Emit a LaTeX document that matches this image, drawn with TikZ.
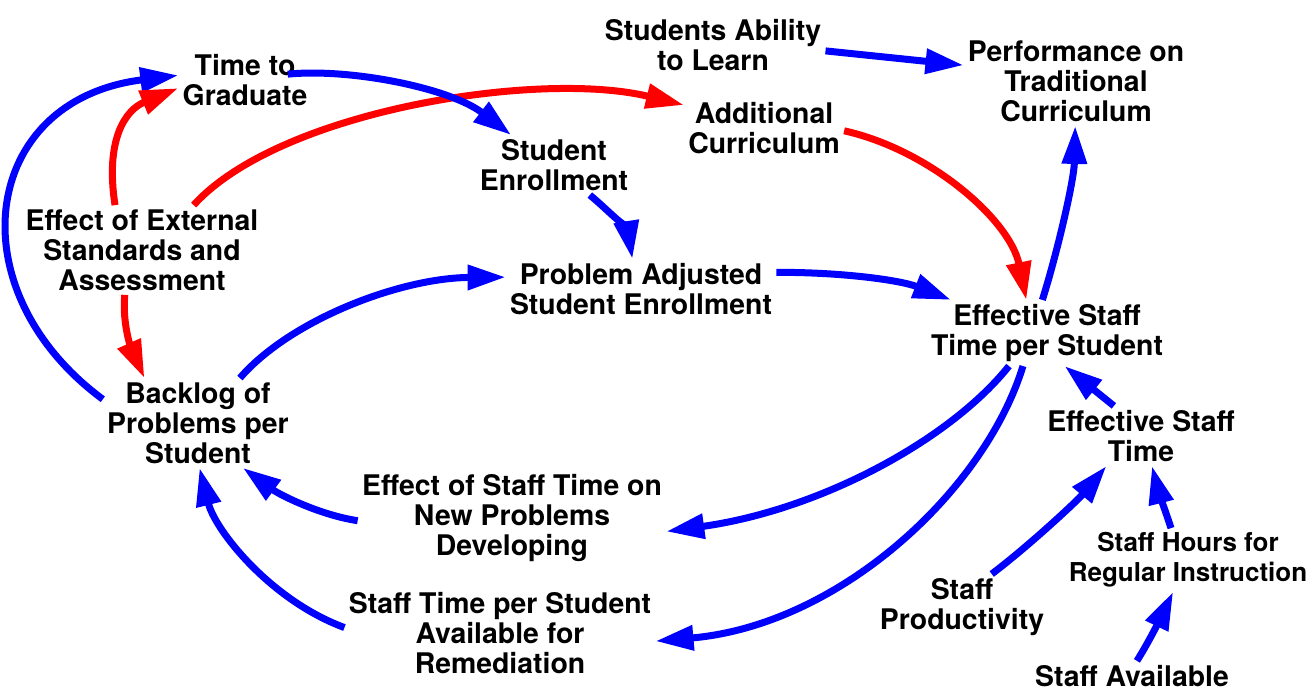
\documentclass[tikz,border=0pt]{standalone}
\usepackage{fontspec}
\setmainfont{TeX Gyre Heros}
\usetikzlibrary{arrows.meta}
\begin{document}
\begin{tikzpicture}[x=0.5pt,y=-0.5pt]

  \tikzstyle{var} = [align=center, inner sep=2pt, font=\fontsize{14.2pt}{15pt}\selectfont\bfseries]
  \tikzstyle{link} = [line width=3.5pt, -{Triangle[length=19pt,width=12pt]}]
  \tikzstyle{bluelink} = [link, blue]
  \tikzstyle{redlink} = [link, red]

  \useasboundingbox (0,0) rectangle (1307,690);

  \node[var] (tg) at (245,80) {Time to\\Graduate};
  \node[var] (sal) at (713,45) {Students Ability\\to Learn};
  \node[var] (perf) at (1076,81) {Performance on\\Traditional\\Curriculum};
  \node[var] (add) at (764,128) {Additional\\Curriculum};
  \node[var] (se) at (554,165) {Student\\Enrollment};
  \node[var] (ext) at (142,250) {Effect of External\\Standards and\\Assessment};
  \node[var] (pa) at (641,289) {Problem Adjusted\\Student Enrollment};
  \node[var] (esp) at (1047,333) {Effective Staff\\Time per Student};
  \node[var] (bl) at (198,423) {Backlog of\\Problems per\\Student};
  \node[var] (est) at (1141,436) {Effective Staff\\Time};
  \node[var] (eost) at (512,518) {Effect of Staff Time on\\New Problems\\Developing};
  \node[var, font=\fontsize{13pt}{15pt}\selectfont\bfseries] (sh) at (1188,560) {Staff Hours for\\Regular Instruction};
  \node[var] (sp) at (962,607) {Staff\\Productivity};
  \node[var] (stps) at (500,633) {Staff Time per Student\\Available for\\Remediation};
  \node[var] (sa) at (1132,676) {Staff Available};

  \draw[bluelink] (bl.166) .. controls (-45,290) and (-20,100) .. (tg.176);
  \draw[redlink] (ext.121) .. controls (105,140) and (125,110) .. (tg.187);
  \draw[redlink] (ext.41) .. controls (280,110) and (540,70) .. (add.164);
  \draw[redlink] (ext.249) .. controls (122,325) and (132,350) .. (bl.140);
  \draw[bluelink] ([xshift=-12pt]tg.5) .. controls (350,68) and (450,88) .. (se.145);
  \draw[bluelink] (sal.357) -- (perf.172);
  \draw[redlink] (add.358) .. controls (930,150) and (1010,220) .. (esp.122);
  \draw[bluelink] (se.320) .. controls (608,210) and (628,232) .. (pa.106);
  \draw[bluelink] (bl.47) .. controls (290,320) and (400,278) .. (pa.175);
  \draw[bluelink] (pa.7) .. controls (840,272) and (900,280) .. (esp.161);
  \draw[bluelink] (esp.98) .. controls (1058,250) and (1074,180) .. (perf.269);
  \draw[bluelink] (esp.221) .. controls (950,440) and (820,510) .. (eost.355);
  \draw[bluelink] (esp.234) .. controls (985,490) and (840,625) .. (stps.357);
  \draw[bluelink] (est.132) -- (esp.298);
  \draw[bluelink] (eost.181) .. controls (320,515) and (280,495) .. (bl.315);
  \draw[bluelink] (stps.178) .. controls (270,600) and (215,530) .. (bl.272);
  \draw[bluelink] (sp.48) .. controls (1030,545) and (1078,500) .. (est.221);
  \draw[bluelink] (sh.118) .. controls (1165,510) and (1158,490) .. (est.290);
  \draw[bluelink] (sa.72) .. controls (1150,640) and (1162,615) .. (sh.245);

\end{tikzpicture}
\end{document}
